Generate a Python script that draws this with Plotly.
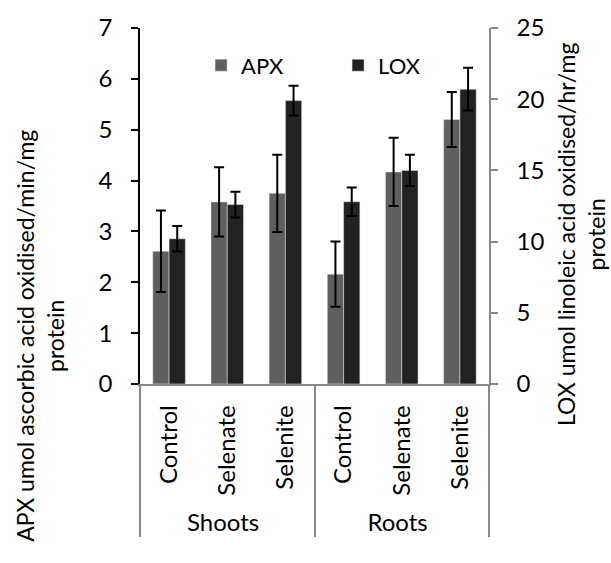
import plotly.graph_objects as go

# Tissue groups and selenium treatments
tissues = ["Shoots", "Shoots", "Shoots", "Roots", "Roots", "Roots"]
treatments = ["Control", "Selenate", "Selenite", "Control", "Selenate", "Selenite"]

# APX activity (umol ascorbic acid oxidised/min/mg protein) with error
apx = [2.61, 3.58, 3.75, 2.16, 4.17, 5.20]
apx_err = [0.80, 0.68, 0.76, 0.64, 0.67, 0.54]

# LOX activity (umol linoleic acid oxidised/hr/mg protein) with error
lox = [10.2, 12.6, 19.9, 12.8, 15.0, 20.7]
lox_err = [0.9, 0.9, 1.05, 1.0, 1.1, 1.5]

FONT = "Lato"
FS = 24
TITLE_FS = 23
AXIS_GREY = "#898989"

fig = go.Figure()
fig.add_trace(go.Bar(
    x=[tissues, treatments], y=apx, name="APX", offsetgroup="apx",
    marker=dict(color="#5f5f5f"),
    error_y=dict(type="data", array=apx_err, visible=True,
                 color="black", thickness=2, width=5),
    yaxis="y",
))
fig.add_trace(go.Bar(
    x=[tissues, treatments], y=lox, name="LOX", offsetgroup="lox",
    marker=dict(color="#222222"),
    error_y=dict(type="data", array=lox_err, visible=True,
                 color="black", thickness=2, width=5),
    yaxis="y2",
))

fig.update_layout(
    width=611, height=563,
    margin=dict(l=140, r=122, t=19, b=179),
    paper_bgcolor="white", plot_bgcolor="white",
    font=dict(family=FONT, size=FS, color="black"),
    barmode="group", bargap=0.44, bargroupgap=0,
    showlegend=True,
    legend=dict(orientation="h", x=0.175, xanchor="left", y=0.895, yanchor="middle",
                bgcolor="rgba(0,0,0,0)", font=dict(size=22),
                entrywidth=92, entrywidthmode="pixels", tracegroupgap=0),
    xaxis=dict(type="multicategory", showline=True, linecolor=AXIS_GREY, linewidth=1.5,
               ticks="", showgrid=False, tickangle=-90, ticklabelstandoff=10,
               showdividers=True, dividercolor=AXIS_GREY, dividerwidth=1.5,
               tickfont=dict(size=FS)),
    yaxis=dict(range=[0, 7], dtick=1, showline=True, linecolor="black", linewidth=1.5,
               ticks="outside", ticklen=7, tickcolor="black", tickwidth=1.5,
               showgrid=False, zeroline=False, ticklabelstandoff=14,
               tickfont=dict(size=FS)),
    yaxis2=dict(range=[0, 25], dtick=5, overlaying="y", side="right",
                showline=True, linecolor=AXIS_GREY, linewidth=1.5,
                ticks="outside", ticklen=7, tickcolor=AXIS_GREY, tickwidth=1.5,
                showgrid=False, zeroline=False, ticklabelstandoff=14,
                tickfont=dict(size=FS)),
    annotations=[
        dict(text="APX umol ascorbic acid oxidised/min/mg<br>protein",
             xref="paper", yref="paper", x=-0.285, y=0.134,
             xanchor="center", yanchor="middle", textangle=-90,
             showarrow=False, font=dict(size=TITLE_FS)),
        dict(text="LOX umol linoleic acid oxidised/hr/mg<br>protein",
             xref="paper", yref="paper", x=1.264, y=0.419,
             xanchor="center", yanchor="middle", textangle=-90,
             showarrow=False, font=dict(size=TITLE_FS)),
    ],
)

fig.write_html("out.html")
